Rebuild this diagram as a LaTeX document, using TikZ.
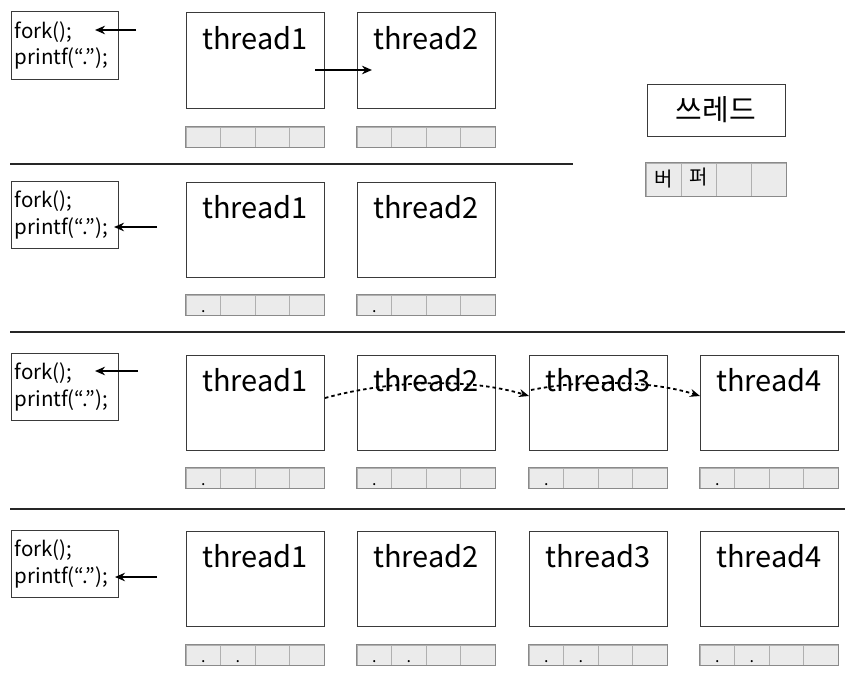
\documentclass[tikz,border=0pt]{standalone}
\usepackage{fontspec}
\setmainfont{Noto Sans CJK KR}
\usetikzlibrary{arrows.meta}
\definecolor{bufcol}{HTML}{EBEBEB}
\definecolor{bufline}{HTML}{B0B0B0}
\definecolor{bufouter}{HTML}{8A8A8A}
\definecolor{boxline}{HTML}{3A3A3A}
\tikzset{
  tbox/.style={draw=boxline, line width=1pt, minimum width=138pt, minimum height=95pt, inner sep=0pt},
  ttext/.style={anchor=base, inner sep=0pt, font=\fontsize{29}{34}\selectfont},
  codebox/.style={draw=boxline, line width=1pt, minimum width=107pt, minimum height=67pt, inner sep=0pt},
  codetext/.style={anchor=base west, inner sep=0pt, font=\fontsize{20.5}{26}\selectfont},
  cellbox/.style={draw=bufline, fill=bufcol, line width=0.8pt, minimum width=34.5pt, minimum height=20pt, inner sep=0pt},
  bufframe/.style={draw=bufouter, line width=0.8pt},
  dottext/.style={anchor=base, inner sep=0pt, font=\fontsize{16}{18}\selectfont},
  arr/.style={-{Stealth[length=10pt,width=8.5pt]}, line width=2pt},
  dasharr/.style={-{Stealth[length=10pt,width=8pt]}, line width=1.8pt, dash pattern=on 3.5pt off 3pt},
  sepline/.style={line width=2pt, draw=black!85},
}
\newcommand\mkbuf[3]{%
  \foreach \i in {1,...,4}{\node[cellbox] (#1c\i) at ({#2+34.5*(\i-0.5)},{#3+10}) {};}
  \draw[bufframe] (#1c1.north west) rectangle (#1c4.south east);
}
\begin{document}
\begin{tikzpicture}[x=1pt,y=-1pt]
\useasboundingbox (0,0) rectangle (864,677);

% ---------- separator lines
\coordinate (l1a) at (10,164); \coordinate (l1b) at (573,164);
\coordinate (l2a) at (10,332); \coordinate (l2b) at (845,332);
\coordinate (l3a) at (10,509); \coordinate (l3b) at (845,509);
\draw[sepline] (l1a) -- (l1b);
\draw[sepline] (l2a) -- (l2b);
\draw[sepline] (l3a) -- (l3b);

% ---------- code boxes
\foreach \r/\top in {1/12, 2/181, 3/353, 4/530}{
  \node[codebox] (cb\r) at (65,{\top+33.5}) {};
  \node[codetext] (cf\r) at (14.5,{\top+26}) {fork();};
  \node[codetext] (cp\r) at (14.5,{\top+53}) {printf(“.”);};
}

% ---------- code arrows
\coordinate (a1s) at (136,30);  \coordinate (a1e) at (95,30);
\coordinate (a2s) at (157,227); \coordinate (a2e) at (114,227);
\coordinate (a3s) at (138,371); \coordinate (a3e) at (95,371);
\coordinate (a4s) at (157,577); \coordinate (a4e) at (115,577);
\draw[arr] (a1s) -- (a1e);
\draw[arr] (a2s) -- (a2e);
\draw[arr] (a3s) -- (a3e);
\draw[arr] (a4s) -- (a4e);

% ---------- thread boxes
\foreach \r/\top/\n in {1/13/2, 2/182/2, 3/355/4, 4/531/4}{
  \foreach \k/\lx in {1/186, 2/357, 3/529, 4/700}{
    \ifnum\k>\n\else
      \node[tbox] (t\r\k) at ({\lx+69},{\top+47.5}) {};
      \node[ttext] (tt\r\k) at ({\lx+69},{\top+36}) {thread\k};
    \fi
  }
}

% ---------- buffers
\foreach \r/\top/\n in {1/127/2, 2/295/2, 3/468/4, 4/645/4}{
  \foreach \k/\lx in {1/186, 2/357, 3/529, 4/700}{
    \ifnum\k>\n\else
      \mkbuf{b\r\k}{\lx}{\top}
    \fi
  }
}

% dots in buffers
\foreach \k in {1,2}{\node[dottext] (d2\k) at ([yshift=2.5pt]b2\k c1.south) {.};}
\foreach \k in {1,2,3,4}{\node[dottext] (d3\k) at ([yshift=2.5pt]b3\k c1.south) {.};}
\foreach \k in {1,2,3,4}{
  \node[dottext] (d4\k a) at ([yshift=2.5pt]b4\k c1.south) {.};
  \node[dottext] (d4\k b) at ([yshift=2.5pt]b4\k c2.south) {.};
}

% ---------- row 1 thread arrow
\coordinate (r1s) at (315,70); \coordinate (r1e) at (372,70);
\draw[arr] (r1s) -- (r1e);

% ---------- row 3 dashed arrows
\coordinate (d1s) at (325,398); \coordinate (d1e) at (529,396);
\coordinate (d2s) at (531,390); \coordinate (d2e) at (700,396);
\draw[dasharr] (d1s) .. controls (390,380) and (470,378) .. (d1e);
\draw[dasharr] (d2s) .. controls (580,380) and (650,380) .. (d2e);

% ---------- legend
\node[draw=boxline, line width=1pt, minimum width=138pt, minimum height=52pt, inner sep=0pt,
      font=\fontsize{29}{34}\selectfont] (leg) at (716,110) {쓰레드};
\foreach \i in {1,...,4}{\node[cellbox, minimum width=35pt, minimum height=33pt] (lc\i) at ({646+35*(\i-0.5)},179.5) {};}
\draw[bufframe] (lc1.north west) rectangle (lc4.south east);
\node[font=\fontsize{20}{22}\selectfont, inner sep=0pt] (lb1) at (lc1) {버};
\node[font=\fontsize{20}{22}\selectfont, inner sep=0pt] (lb2) at ([yshift=2pt]lc2) {퍼};
\end{tikzpicture}
\end{document}
